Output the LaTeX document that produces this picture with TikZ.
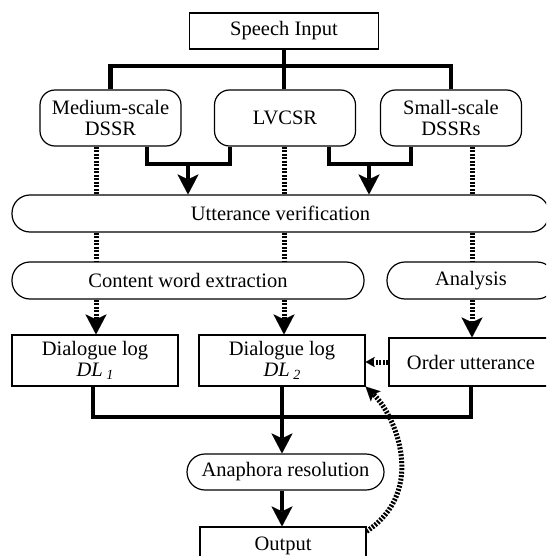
\documentclass[tikz,border=0pt]{standalone}
\usepackage{fontspec}
\setmainfont{Liberation Serif}
\usetikzlibrary{arrows.meta}
\tikzset{
  bigtip/.tip={Stealth[length=20pt,width=21pt,inset=5pt,line width=0.01pt]},
  midtip/.tip={Stealth[length=14pt,width=14pt,inset=3pt,line width=0.01pt]},
  smalltip/.tip={Stealth[length=9pt,width=10pt,inset=2pt,line width=0.01pt]},
}
\begin{document}
\begin{tikzpicture}[x=1pt,y=-1pt,
  box/.style={draw,line width=1.2pt,inner sep=0pt,font=\fontsize{20.5}{21}\selectfont,align=center},
  rbox/.style={box,rounded corners=15pt},
  pill/.style={box,rounded corners=18pt},
  thickln/.style={line width=4.5pt},
  dotln/.style={line width=5pt,dash pattern=on 2pt off 1.5pt},
]
\useasboundingbox (0,0) rectangle (546,556);
\clip (0,0) rectangle (546,556);

% nodes
\node[box,minimum width=189pt,minimum height=36pt] (speech) at (284,31) {Speech Input};
\node[rbox,minimum width=141pt,minimum height=56pt] (medium) at (110.5,118) {Medium-scale\\DSSR};
\node[rbox,minimum width=141pt,minimum height=56pt] (lvcsr) at (285,118) {LVCSR};
\node[rbox,minimum width=141pt,minimum height=56pt] (small) at (451,118) {Small-scale\\DSSRs};
\node[pill,minimum width=537pt,minimum height=37pt] (utt) at (280.5,213.5) {Utterance verification};
\node[pill,minimum width=352pt,minimum height=37pt] (content) at (188,280.5) {Content word extraction};
\node[pill,minimum width=168pt,minimum height=37pt] (analysis) at (471,280.5) {Analysis};
\node[box,minimum width=166pt,minimum height=51pt] (dl1) at (95,360.5)
  {Dialogue log\\\textit{DL}\,\raisebox{-3pt}{\fontsize{14}{14}\selectfont\textit{1}}};
\node[box,minimum width=166pt,minimum height=51pt] (dl2) at (282,360.5)
  {Dialogue log\\\textit{DL}\,\raisebox{-3pt}{\fontsize{14}{14}\selectfont\textit{2}}};
\node[box,minimum width=164pt,minimum height=48pt] (order) at (471,362) {Order utterance};
\node[pill,minimum width=197pt,minimum height=36pt] (anaphora) at (285.5,472) {Anaphora resolution};
\node[box,minimum width=166pt,minimum height=38pt] (output) at (283,546) {Output};

% speech input to recognisers
\draw[thickln] (speech.south) -- (speech.south |- lvcsr.north);
\draw[thickln] (medium.north) |- (284,66) -| (small.north);

% joins to utterance verification
\coordinate (j1) at (188,164);
\coordinate (j2) at (369,164);
\draw[thickln] ([xshift=36.5pt]medium.south) |- (j1) -| ([xshift=-55pt]lvcsr.south);
\draw[thickln,-bigtip] (j1) -- (j1 |- utt.north);
\draw[thickln] ([xshift=44pt]lvcsr.south) |- (j2) -| ([xshift=-40pt]small.south);
\draw[thickln,-bigtip] (j2) -- (j2 |- utt.north);

% dotted lines
\draw[dotln] (96,0 |- medium.south) -- (96,0 |- utt.north);
\draw[dotln] (284,0 |- lvcsr.south) -- (284,0 |- utt.north);
\draw[dotln] (472,0 |- small.south) -- (472,0 |- utt.north);
\draw[dotln] (96,0 |- utt.south) -- (96,0 |- content.north);
\draw[dotln] (284,0 |- utt.south) -- (284,0 |- content.north);
\draw[dotln] (472,0 |- utt.south) -- (472,0 |- analysis.north);
\draw[dotln,-bigtip] (96,0 |- content.south) -- (96,0 |- dl1.north);
\draw[dotln,-bigtip] (284,0 |- content.south) -- (284,0 |- dl2.north);
\draw[dotln,-bigtip] (472,0 |- analysis.south) -- (472,0 |- order.north);
\draw[dotln,-smalltip] (order.west) -- (order.west -| dl2.east);

% logs to anaphora resolution
\draw[thickln] ([xshift=-2pt]dl1.south) |- (282,417) -| (order.south);
\draw[thickln,-bigtip] (dl2.south) -- (dl2.south |- anaphora.north);
\draw[thickln,-bigtip] (dl2.south |- anaphora.south) -- (dl2.south |- output.north);

% feedback
\draw[dotln,-midtip] ([yshift=-5pt]output.north east) .. controls (428,490) and (395,415) .. (dl2.south east);
\end{tikzpicture}
\end{document}
